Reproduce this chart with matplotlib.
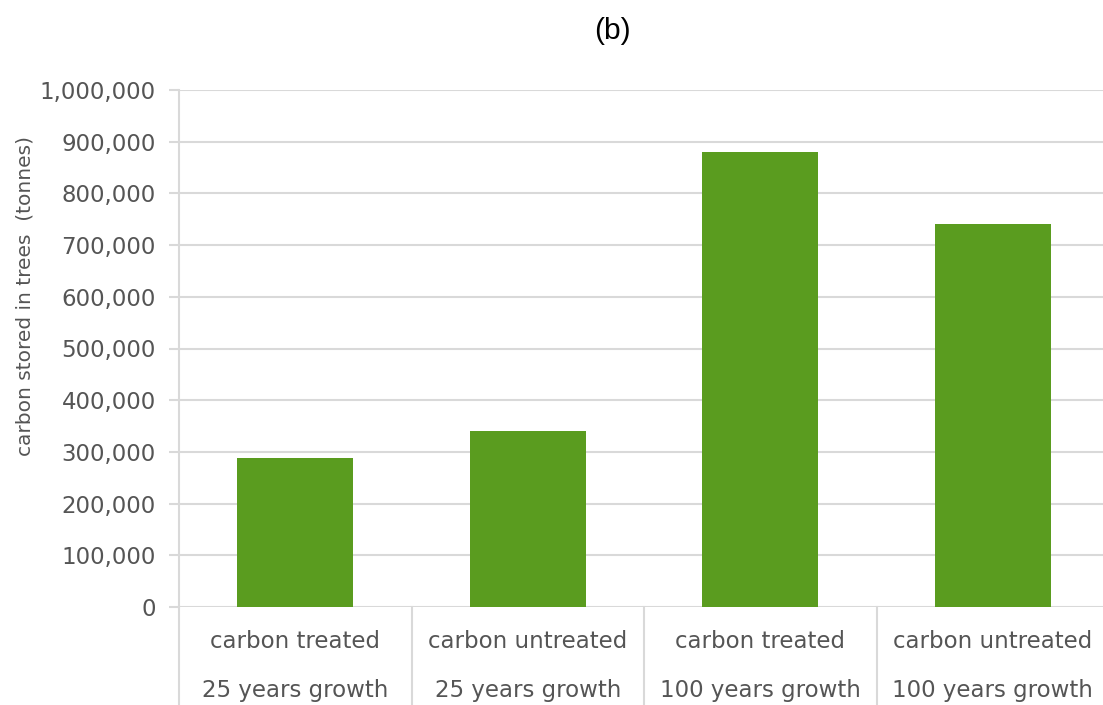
import matplotlib
matplotlib.use("Agg")
import matplotlib.pyplot as plt
import matplotlib.transforms as mtransforms
from matplotlib.ticker import FuncFormatter

# Carbon stored in trees by treatment and growth period
treatments = ["carbon treated", "carbon untreated", "carbon treated", "carbon untreated"]
periods = ["25 years growth", "25 years growth", "100 years growth", "100 years growth"]
carbon_tonnes = [288000, 341000, 880000, 741000]
y_ticks = [0, 100000, 200000, 300000, 400000, 500000, 600000, 700000, 800000, 900000, 1000000]

BAR_GREEN = "#5a9c1f"
GRID_GREY = "#d9d9d9"
TEXT_GREY = "#555555"

W, H = 1103, 705
fig = plt.figure(figsize=(W / 100, H / 100), dpi=100)
ax = fig.add_axes([179 / W, 1 - 607 / H, (1109 - 179) / W, (607 - 90) / H])

x = list(range(len(carbon_tonnes)))
ax.bar(x, carbon_tonnes, width=0.5, color=BAR_GREEN, zorder=3)

ax.set_xlim(-0.5, len(x) - 0.5)
ax.set_ylim(0, 1000000)
ax.set_yticks(y_ticks)
ax.yaxis.set_major_formatter(FuncFormatter(lambda v, _: f"{int(v):,}"))
ax.yaxis.grid(True, color=GRID_GREY, linewidth=1.5, zorder=0)
ax.set_axisbelow(True)

ax.tick_params(axis="y", length=7.2, width=1.5, color=GRID_GREY, pad=9.4,
               labelsize=16.5, labelcolor=TEXT_GREY)
ax.tick_params(axis="x", bottom=False, labelbottom=False)

for side in ("top", "right", "bottom"):
    ax.spines[side].set_visible(False)
ax.spines["left"].set_color(GRID_GREY)
ax.spines["left"].set_linewidth(1.5)

# Category table underneath the plot: two label rows with vertical dividers
trans = mtransforms.blended_transform_factory(ax.transData, ax.transAxes)
px = 1.0 / (607 - 90)
row1_y = -(642 - 607) * px
row2_y = -(690 - 607) * px
for xi, t, p in zip(x, treatments, periods):
    ax.text(xi, row1_y, t, transform=trans, ha="center", va="center",
            fontsize=16.5, color=TEXT_GREY)
    ax.text(xi, row2_y, p, transform=trans, ha="center", va="center",
            fontsize=16.5, color=TEXT_GREY)
for xb in [i - 0.5 for i in range(len(x) + 1)]:
    ax.plot([xb, xb], [0, -(H - 607) * px], transform=trans, color=GRID_GREY,
            linewidth=1.5, clip_on=False)

fig.text(25 / W, 1 - 296 / H, "carbon stored in trees  (tonnes)", rotation=90,
         ha="center", va="center", fontsize=14.5, color=TEXT_GREY)

fig.text(612 / W, 1 - 31 / H, "(b)", ha="center", va="center",
         fontsize=21.5, family="Liberation Sans", color="black")

fig.savefig("out.png", dpi=100)
